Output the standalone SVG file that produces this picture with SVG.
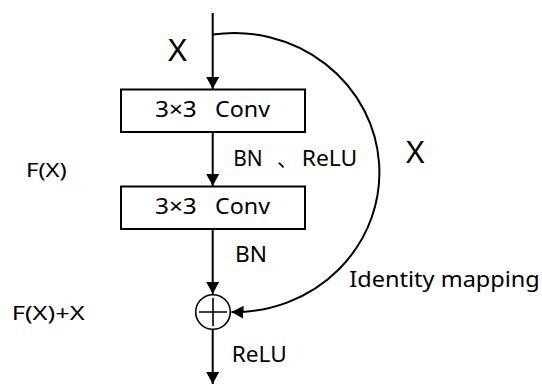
<svg xmlns="http://www.w3.org/2000/svg" width="542" height="385" viewBox="0 0 542 385">
  <style>
    .box { fill: #ffffff; stroke: #000000; stroke-width: 2; }
    .edge { fill: none; stroke: #000000; stroke-width: 2; }
    .t { font-family: "Noto Sans", "Open Sans", "DejaVu Sans", sans-serif; fill: #000000; }
    .cjk { font-family: "Noto Sans CJK SC", "Noto Sans", sans-serif; fill: #000000; }
  </style>
  <defs>
    <marker id="arrow" markerUnits="userSpaceOnUse" markerWidth="14" markerHeight="14" refX="12" refY="6.5" orient="auto">
      <path d="M0,0 L12,6.5 L0,13 z" fill="#000000"/>
    </marker>
  </defs>

  <g id="connectors">
    <path class="edge" d="M212.7,13 V89" marker-end="url(#arrow)"/>
    <path class="edge" d="M212.7,132 V186" marker-end="url(#arrow)"/>
    <path class="edge" d="M212.7,229 V294" marker-end="url(#arrow)"/>
    <path class="edge" d="M212.7,330 V384" marker-end="url(#arrow)"/>
    <path class="edge" d="M212.7,34.6 A145,139.5 0 1 1 231.5,312" marker-end="url(#arrow)"/>
  </g>

  <g id="conv1">
    <rect class="box" x="121" y="89.5" width="184" height="42.5"/>
    <text class="t" font-size="21" y="117.3"><tspan x="155" textLength="41.7" lengthAdjust="spacingAndGlyphs">3×3</tspan><tspan x="215" textLength="55" lengthAdjust="spacingAndGlyphs">Conv</tspan></text>
  </g>

  <g id="conv2">
    <rect class="box" x="121" y="186.5" width="184" height="42.5"/>
    <text class="t" font-size="21" y="214.3"><tspan x="155" textLength="41.7" lengthAdjust="spacingAndGlyphs">3×3</tspan><tspan x="215" textLength="55" lengthAdjust="spacingAndGlyphs">Conv</tspan></text>
  </g>

  <g id="add">
    <circle cx="213" cy="312" r="17.3" fill="#ffffff" stroke="#000000" stroke-width="1.6"/>
    <path d="M199,312 H227 M213,298 V326" stroke="#000000" stroke-width="1.6" fill="none"/>
  </g>

  <g id="labels">
    <text class="t" font-size="30" x="168" y="61" textLength="19" lengthAdjust="spacingAndGlyphs">X</text>
    <text class="t" font-size="30" x="406" y="162.7" textLength="18.5" lengthAdjust="spacingAndGlyphs">X</text>
    <text class="t" font-size="20" x="26" y="177" textLength="40.7" lengthAdjust="spacingAndGlyphs">F(X)</text>
    <text class="t" font-size="20" x="11.7" y="319.5" textLength="73" lengthAdjust="spacingAndGlyphs">F(X)+X</text>
    <text class="t" font-size="21" x="233.3" y="166" textLength="29.4" lengthAdjust="spacingAndGlyphs">BN</text>
    <text class="cjk" font-size="21" x="277" y="166">、</text>
    <text class="t" font-size="21" x="301.7" y="166" textLength="55.6" lengthAdjust="spacingAndGlyphs">ReLU</text>
    <text class="t" font-size="21" x="235" y="261.5" textLength="32" lengthAdjust="spacingAndGlyphs">BN</text>
    <text class="t" font-size="22" x="231.7" y="361.7" textLength="55" lengthAdjust="spacingAndGlyphs">ReLU</text>
    <text class="t" font-size="22" x="349.3" y="286.7" textLength="190.5" lengthAdjust="spacingAndGlyphs">Identity mapping</text>
  </g>
</svg>
